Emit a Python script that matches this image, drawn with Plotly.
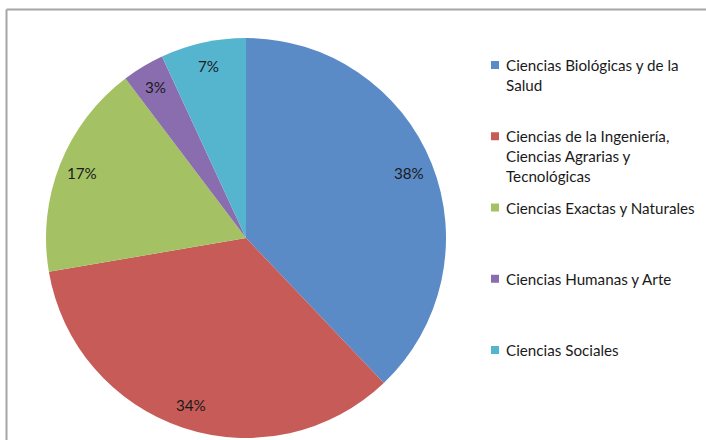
import math
import plotly.graph_objects as go

categories = [
    "Ciencias Biológicas y de la<br>Salud",
    "Ciencias de la Ingeniería,<br>Ciencias Agrarias y<br>Tecnológicas",
    "Ciencias Exactas y Naturales",
    "Ciencias Humanas y Arte",
    "Ciencias Sociales",
]
values = [37.9, 34.4, 17.4, 3.4, 6.9]
colors = ["#5B8BC7", "#C65B57", "#A4C263", "#8A6DAE", "#55B4CE"]

W, H = 706, 440
FONT = "Lato"
FS = 15.2

def px(x):
    return x / W

def py(y):
    return 1 - y / H

# pie geometry in screen pixels
cx, cy, r = 246, 238, 200

fig = go.Figure()
fig.add_trace(go.Pie(
    labels=[c.replace("<br>", " ") for c in categories],
    values=values,
    marker=dict(colors=colors, line=dict(width=0)),
    sort=False,
    direction="clockwise",
    rotation=0,
    textinfo="none",
    hoverinfo="label+percent",
    showlegend=False,
    domain=dict(x=[px(cx - r), px(cx + r)], y=[py(cy + r), py(cy - r)]),
))

annotations = []
shapes = []

# percent labels along mid-angle
total = sum(values)
cum = 0
for v in values:
    mid = (cum + v / 2) / total * 2 * math.pi
    cum += v
    lx = cx + 0.88 * r * math.sin(mid)
    ly = cy - 0.88 * r * math.cos(mid)
    annotations.append(dict(
        x=px(lx), y=py(ly), xref="paper", yref="paper",
        text=f"{round(v / total * 100)}%", showarrow=False,
        font=dict(family=FONT, size=FS, color="#1a1a1a"),
        xanchor="center", yanchor="middle",
    ))

# legend drawn manually
for i, (cat, col) in enumerate(zip(categories, colors)):
    y0 = 65 + 71.25 * i
    shapes.append(dict(
        type="rect", xref="paper", yref="paper",
        x0=px(491), x1=px(499), y0=py(y0 + 4), y1=py(y0 - 4),
        fillcolor=col, line=dict(width=0),
    ))
    for j, line in enumerate(cat.split("<br>")):
        annotations.append(dict(
            x=px(504), y=py(y0 + 20 * j), xref="paper", yref="paper",
            text=line, showarrow=False,
            font=dict(family=FONT, size=FS, color="#1a1a1a"),
            xanchor="left", yanchor="middle",
        ))

# chart border (top and left visible)
shapes.append(dict(type="line", xref="paper", yref="paper",
                   x0=px(6.5), x1=1, y0=py(9.5), y1=py(9.5),
                   line=dict(color="#A6A6A6", width=2)))
shapes.append(dict(type="line", xref="paper", yref="paper",
                   x0=px(6.5), x1=px(6.5), y0=py(9.5), y1=0,
                   line=dict(color="#A6A6A6", width=2)))

fig.update_layout(
    width=W, height=H,
    margin=dict(l=0, r=0, t=0, b=0),
    paper_bgcolor="white",
    plot_bgcolor="white",
    annotations=annotations,
    shapes=shapes,
    font=dict(family=FONT),
)

fig.write_html("out.html",
               config={"displayModeBar": False},
               post_script="document.body.style.margin='0';document.body.style.overflow='hidden';")
